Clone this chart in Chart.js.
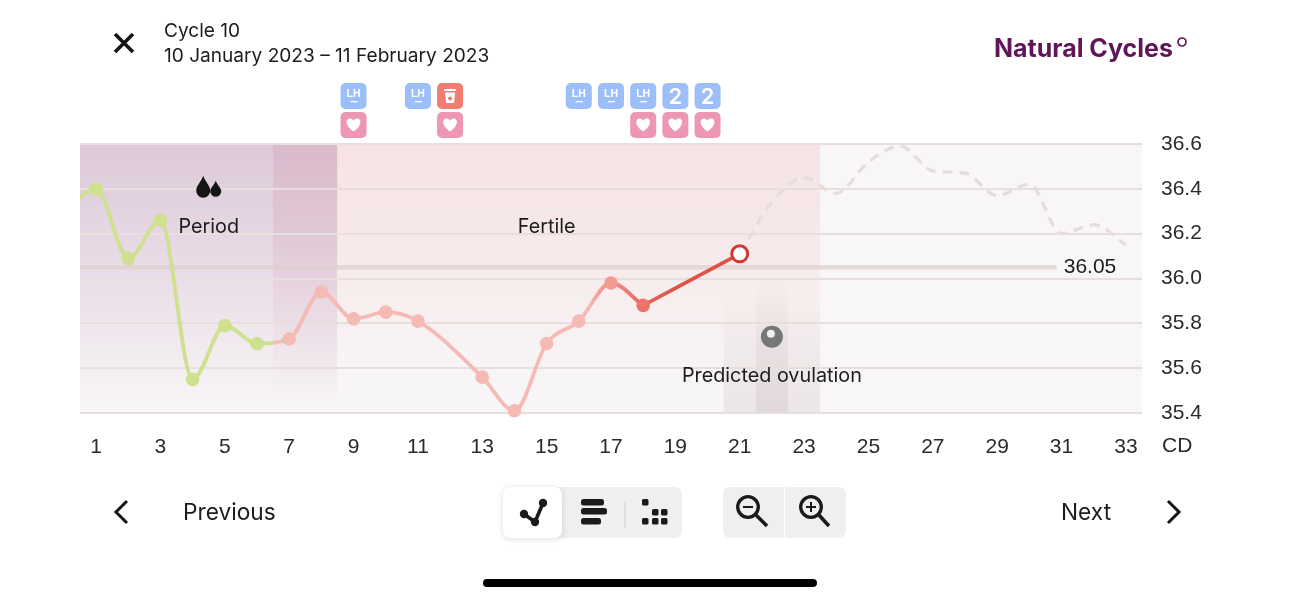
<!DOCTYPE html>
<html>
<head>
<meta charset="utf-8">
<title>Cycle 10</title>
<script src="https://cdn.jsdelivr.net/npm/chart.js@4"></script>
<style>
html, body { margin: 0; padding: 0; background: #fff; }
body { width: 1299px; height: 600px; position: relative; overflow: hidden; font-family: Inter, sans-serif; color: #1c1c1c; }
canvas { position: absolute; left: 0; top: 0; }
.txt { position: absolute; white-space: nowrap; }
.abs { position: absolute; }
</style>
</head>
<body>
<canvas id="chart" width="1299" height="600"></canvas>

<svg class="abs" style="left:112px;top:31px" width="24" height="24"><path d="M3 3L21 21M21 3L3 21" stroke="#151515" stroke-width="3.6" fill="none"/></svg>
<div class="txt" style="left:164px;top:18px;font-size:19.1px;line-height:24px">Cycle 10</div>
<div class="txt" style="left:164px;top:43px;font-size:19.1px;line-height:24px">10 January 2023 – 11 February 2023</div>
<div class="txt" style="left:994px;top:32px;font-size:25px;line-height:32px;font-weight:700;color:#5f1558">Natural Cycles</div>
<svg class="abs" style="left:1175px;top:35px" width="14" height="14"><circle cx="7" cy="7" r="4" stroke="#5f1558" stroke-width="1.7" fill="none"/></svg>

<svg class="abs" style="left:110px;top:498px" width="22" height="28"><path d="M17 3L6 14L17 25" stroke="#151515" stroke-width="3" fill="none"/></svg>
<div class="txt" style="left:183px;top:497px;font-size:22.7px;line-height:30px">Previous</div>
<div class="txt" style="left:1061px;top:497px;font-size:22.7px;line-height:30px">Next</div>
<svg class="abs" style="left:1163px;top:498px" width="22" height="28"><path d="M5 3L16 14L5 25" stroke="#151515" stroke-width="3" fill="none"/></svg>

<div class="abs" style="left:503px;top:487px;width:179px;height:51px;background:#efefef;border-radius:7px"></div>
<div class="abs" style="left:503px;top:487px;width:59px;height:51px;background:#fff;border-radius:7px;box-shadow:0 1px 6px rgba(0,0,0,.14)"></div>
<svg class="abs" style="left:503px;top:487px" width="179" height="51">
  <path d="M21 27L32 35L40 16" stroke="#1a1a1a" stroke-width="3.6" fill="none"/>
  <circle cx="21" cy="27" r="4.2" fill="#1a1a1a"/><circle cx="32" cy="35" r="4.2" fill="#1a1a1a"/><circle cx="40" cy="16" r="4.2" fill="#1a1a1a"/>
  <rect x="78" y="12" width="23" height="6.5" rx="2.5" fill="#1a1a1a"/>
  <rect x="78" y="21" width="26" height="6.5" rx="2.5" fill="#1a1a1a"/>
  <rect x="78" y="31" width="20" height="6.5" rx="2.5" fill="#1a1a1a"/>
  <rect x="121" y="15" width="1.6" height="26" fill="#dcdcdc"/>
  <rect x="139" y="12" width="6.5" height="6.5" rx="1.5" fill="#1a1a1a"/>
  <rect x="149" y="22" width="6.5" height="6.5" rx="1.5" fill="#1a1a1a"/>
  <rect x="158" y="22" width="6.5" height="6.5" rx="1.5" fill="#1a1a1a"/>
  <rect x="139" y="31" width="6.5" height="6.5" rx="1.5" fill="#1a1a1a"/>
  <rect x="149" y="31" width="6.5" height="6.5" rx="1.5" fill="#1a1a1a"/>
  <rect x="158" y="31" width="6.5" height="6.5" rx="1.5" fill="#1a1a1a"/>
</svg>

<div class="abs" style="left:723px;top:487px;width:61px;height:51px;background:#efefef;border-radius:7px 0 0 7px"></div>
<div class="abs" style="left:785px;top:487px;width:61px;height:51px;background:#efefef;border-radius:0 7px 7px 0"></div>
<svg class="abs" style="left:723px;top:487px" width="123" height="51">
  <circle cx="25" cy="20" r="10.3" stroke="#1a1a1a" stroke-width="3.3" fill="none"/>
  <path d="M32 27L44 39" stroke="#1a1a1a" stroke-width="3.6"/>
  <path d="M20 20H30" stroke="#1a1a1a" stroke-width="2"/>
  <circle cx="88" cy="20" r="10.3" stroke="#1a1a1a" stroke-width="3.3" fill="none"/>
  <path d="M95 27L106 39" stroke="#1a1a1a" stroke-width="3.6"/>
  <path d="M83 20H93M88 15V25" stroke="#1a1a1a" stroke-width="2"/>
</svg>

<div class="abs" style="left:483px;top:579px;width:334px;height:8px;background:#000;border-radius:4px"></div>

<script>
// temperature readings, day of cycle -> deg C
var measuredDays = [0, 1, 2, 3, 4, 5, 6, 7, 8, 9, 10, 11, 13, 14, 15, 16, 17, 18];
var measuredTemps = [36.30, 36.40, 36.09, 36.26, 35.55, 35.79, 35.71, 35.73, 35.94, 35.82, 35.85, 35.81, 35.56, 35.41, 35.71, 35.81, 35.98, 35.88];
var pointColors = ['#cfe08e', '#cfe08e', '#cfe08e', '#cfe08e', '#cfe08e', '#cfe08e', '#cfe08e', '#f5bab4', '#f5bab4', '#f5bab4', '#f5bab4', '#f5bab4', '#f5bab4', '#f5bab4', '#f5bab4', '#f5bab4', '#f39b91', '#ee746a'];

// the straight run to today's reading
var latestDays = [18, 21];
var latestTemps = [35.88, 36.11];

var forecastDays = [21, 22, 23, 24, 25, 26, 27, 28, 29, 30, 31, 32, 33];
var forecastTemps = [36.11, 36.34, 36.45, 36.38, 36.52, 36.59, 36.48, 36.47, 36.37, 36.42, 36.20, 36.24, 36.15];

var coverlineDays = [0.5, 30.85];
var coverlineTemps = [36.05, 36.05];

var xTicks = [1, 3, 5, 7, 9, 11, 13, 15, 17, 19, 21, 23, 25, 27, 29, 31, 33];
var yTicks = [35.4, 35.6, 35.8, 36.0, 36.2, 36.4, 36.6];

var lhDays = [9, 11, 16, 17, 18];
var twoDays = [19, 20];
var testDays = [12];
var heartDays = [9, 12, 18, 19, 20];

function zip(xs, ys) {
    return xs.map(function (x, i) { return { x: x, y: ys[i] }; });
}

function vertical(c, top, bottom, stops) {
    var g = c.createLinearGradient(0, top, 0, bottom);
    stops.forEach(function (s) { g.addColorStop(s[0], s[1]); });
    return g;
}

// green -> pink -> red along the x axis
function lineGradient(ctx) {
    var chart = ctx.chart;
    if (!chart.chartArea) return '#f5bab4';
    var x = chart.scales.x, a = chart.chartArea;
    var g = chart.ctx.createLinearGradient(a.left, 0, a.right, 0);
    function at(day) { return (x.getPixelForValue(day) - a.left) / (a.right - a.left); }
    g.addColorStop(0, '#cfe08e');
    g.addColorStop(at(6.5), '#cfe08e');
    g.addColorStop(at(6.5), '#f5bab4');
    g.addColorStop(at(16.3), '#f5bab4');
    g.addColorStop(at(16.7), '#f39b91');
    g.addColorStop(at(18), '#e8685c');
    g.addColorStop(at(19), '#de5348');
    g.addColorStop(1, '#de5348');
    return g;
}

function badge(c, cx, top, color) {
    c.fillStyle = color;
    c.beginPath();
    c.roundRect(cx - 13, top, 26, 26, 5);
    c.fill();
}

function heart(c, cx, cy) {
    c.fillStyle = '#fff';
    c.beginPath();
    c.moveTo(cx, cy + 7);
    c.bezierCurveTo(cx - 9, cy + 1, cx - 8, cy - 6, cx - 3.5, cy - 6);
    c.bezierCurveTo(cx - 1.8, cy - 6, cx - 0.6, cy - 5, cx, cy - 3.8);
    c.bezierCurveTo(cx + 0.6, cy - 5, cx + 1.8, cy - 6, cx + 3.5, cy - 6);
    c.bezierCurveTo(cx + 8, cy - 6, cx + 9, cy + 1, cx, cy + 7);
    c.fill();
}

function drop(c, cx, bottom, w, h) {
    var r = w / 2;
    c.beginPath();
    c.moveTo(cx, bottom - h);
    c.bezierCurveTo(cx + r * 0.3, bottom - h * 0.72, cx + r, bottom - h * 0.55, cx + r, bottom - r);
    c.arc(cx, bottom - r, r, 0, Math.PI);
    c.bezierCurveTo(cx - r, bottom - h * 0.55, cx - r * 0.3, bottom - h * 0.72, cx, bottom - h);
    c.fill();
}

var bandsPlugin = {
    id: 'bands',
    beforeDraw: function (chart) {
        var c = chart.ctx, x = chart.scales.x, a = chart.chartArea;
        var t = a.top, b = a.bottom, h = b - t;
        function band(from, to, top, fill) {
            var l = x.getPixelForValue(from), r = x.getPixelForValue(to);
            c.fillStyle = fill;
            c.fillRect(l, top, r - l, b - top);
        }
        c.save();
        band(0.5, 33.5, t, '#f8f6f7');
        band(0.5, 8.5, t, vertical(c, t, b, [[0, '#dcc9d9'], [0.45, '#e8dce6'], [0.75, '#f1eaef'], [1, '#f8f6f7']]));
        band(6.5, 8.5, t, vertical(c, t, b, [[0, 'rgba(214,160,180,0.38)'], [0.5, 'rgba(214,160,180,0.2)'], [0.92, 'rgba(214,160,180,0)'], [1, 'rgba(214,160,180,0)']]));
        band(8.5, 23.5, t, vertical(c, t, b, [[0, '#f6e3e3'], [0.45, '#f7ebeb'], [0.85, '#f8f5f6'], [1, '#f8f6f7']]));
        band(20.5, 23.5, t + h * 0.55, vertical(c, t + h * 0.55, b, [[0, 'rgba(226,216,216,0)'], [0.5, 'rgba(226,216,216,0.35)'], [1, 'rgba(226,216,216,0.55)']]));
        band(21.5, 22.5, t + h * 0.5, vertical(c, t + h * 0.5, b, [[0, 'rgba(215,205,205,0)'], [0.5, 'rgba(215,205,205,0.35)'], [1, 'rgba(215,205,205,0.5)']]));
        c.restore();
    },
    beforeDatasetsDraw: function (chart) {
        var c = chart.ctx, x = chart.scales.x, y = chart.scales.y;
        c.save();
        c.fillStyle = '#1c1c1c';
        c.textAlign = 'center';
        c.textBaseline = 'middle';
        c.font = '19.8px Inter';
        c.fillText('Period', x.getPixelForValue(4.5), y.getPixelForValue(36.23));
        c.fillText('Fertile', x.getPixelForValue(15), y.getPixelForValue(36.23));
        c.fillText('Predicted ovulation', x.getPixelForValue(22), y.getPixelForValue(35.565));

        // period drops
        var dx = x.getPixelForValue(4.5), dy = y.getPixelForValue(36.4);
        c.fillStyle = '#151515';
        drop(c, dx - 5.5, dy + 9, 14, 22);
        drop(c, dx + 7, dy + 8, 11, 16);

        // ovulation marker
        var ox = x.getPixelForValue(22), oy = y.getPixelForValue(35.74);
        c.fillStyle = '#777';
        c.beginPath(); c.arc(ox, oy, 11, 0, Math.PI * 2); c.fill();
        c.fillStyle = '#eee';
        c.beginPath(); c.arc(ox - 1, oy - 3, 4, 0, Math.PI * 2); c.fill();
        c.restore();
    },
    afterDraw: function (chart) {
        var c = chart.ctx, x = chart.scales.x, y = chart.scales.y;
        c.save();
        c.textAlign = 'center';
        c.textBaseline = 'middle';

        lhDays.forEach(function (d) {
            var cx = x.getPixelForValue(d);
            badge(c, cx, 83, '#9cbff9');
            c.fillStyle = '#fff';
            c.font = 'bold 10.5px "Liberation Sans"';
            c.fillText('LH', cx, 94);
            c.fillRect(cx - 3, 101, 7, 1.3);
        });
        twoDays.forEach(function (d) {
            var cx = x.getPixelForValue(d);
            badge(c, cx, 83, '#9cbff9');
            c.fillStyle = '#fff';
            c.font = '600 22px Inter';
            c.fillText('2', cx, 97);
        });
        testDays.forEach(function (d) {
            var cx = x.getPixelForValue(d);
            badge(c, cx, 83, '#f27c70');
            c.fillStyle = '#fff';
            c.fillRect(cx - 6, 89, 12, 2);
            c.beginPath();
            c.moveTo(cx - 5, 92.5); c.lineTo(cx + 5, 92.5); c.lineTo(cx + 4, 103); c.lineTo(cx - 4, 103);
            c.fill();
            c.fillStyle = '#f27c70';
            c.beginPath(); c.arc(cx, 98.5, 2, 0, Math.PI * 2); c.fill();
        });
        heartDays.forEach(function (d) {
            var cx = x.getPixelForValue(d);
            badge(c, cx, 112, '#ee97b4');
            heart(c, cx, 124.5);
        });

        // coverline value and the axis name
        c.fillStyle = '#1c1c1c';
        c.font = '21px "Liberation Sans"';
        c.textAlign = 'left';
        c.fillText('36.05', x.getPixelForValue(30.85) + 7, y.getPixelForValue(36.05));
        c.fillStyle = '#2a2a2a';
        c.fillText('CD', x.right + 20, 446);
        c.restore();
    }
};

new Chart(document.getElementById('chart'), {
    type: 'line',
    data: {
        datasets: [
            {
                label: 'Coverline',
                data: zip(coverlineDays, coverlineTemps),
                borderColor: 'rgba(222,208,206,0.75)',
                borderWidth: 4.5,
                pointRadius: 0,
                order: 4
            },
            {
                label: 'Forecast',
                data: zip(forecastDays, forecastTemps),
                borderColor: '#e6dcdc',
                borderWidth: 3.3,
                borderDash: [10, 7],
                cubicInterpolationMode: 'monotone',
                pointRadius: 0,
                order: 3
            },
            {
                label: 'Latest',
                data: zip(latestDays, latestTemps),
                borderColor: lineGradient,
                borderWidth: 3.8,
                tension: 0,
                pointRadius: [0, 8],
                pointBackgroundColor: '#ffffff',
                pointBorderColor: '#cf3a34',
                pointBorderWidth: 3,
                order: 2
            },
            {
                label: 'Temperature',
                data: zip(measuredDays, measuredTemps),
                borderColor: lineGradient,
                borderWidth: 3.8,
                cubicInterpolationMode: 'monotone',
                clip: { left: 0, top: 10, right: 0, bottom: 10 },
                pointRadius: 6.8,
                pointBackgroundColor: pointColors,
                pointBorderWidth: 0,
                order: 1
            }
        ]
    },
    options: {
        responsive: false,
        animation: false,
        layout: { padding: { left: 80, top: 144, right: 0, bottom: 0 } },
        plugins: { legend: { display: false }, tooltip: { enabled: false } },
        scales: {
            x: {
                type: 'linear',
                min: 0.5,
                max: 33.5,
                grid: { display: false },
                border: { display: false },
                afterBuildTicks: function (s) {
                    s.ticks = xTicks.map(function (v) { return { value: v }; });
                },
                afterFit: function (s) { s.height = 187; },
                ticks: {
                    autoSkip: false,
                    maxRotation: 0,
                    padding: 14,
                    color: '#2a2a2a',
                    font: { family: '"Liberation Sans"', size: 21 }
                }
            },
            y: {
                type: 'linear',
                position: 'right',
                min: 35.4,
                max: 36.6,
                grid: { color: '#e9dede', lineWidth: 2, drawTicks: false },
                border: { display: false },
                afterBuildTicks: function (s) {
                    s.ticks = yTicks.map(function (v) { return { value: v }; });
                },
                afterFit: function (s) { s.width = 157; },
                ticks: {
                    padding: 19,
                    color: '#2a2a2a',
                    font: { family: '"Liberation Sans"', size: 21 },
                    callback: function (v) { return v.toFixed(1); }
                }
            }
        }
    },
    plugins: [bandsPlugin]
});
</script>
</body>
</html>
